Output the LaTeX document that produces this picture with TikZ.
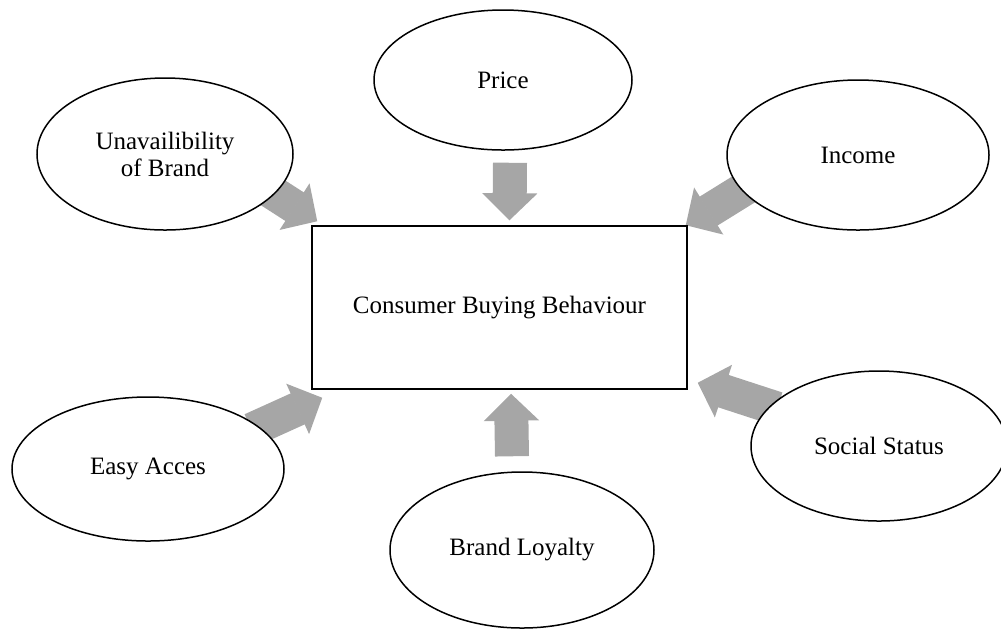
\documentclass[tikz,border=0pt]{standalone}
\usepackage{fontspec}
\setmainfont{Liberation Serif}
\usetikzlibrary{shapes.geometric, arrows.meta, backgrounds}
\definecolor{flowgray}{HTML}{A6A6A6}

\begin{document}
\begin{tikzpicture}[x=0.5pt, y=-0.5pt, font=\fontsize{12.5}{13.5}\selectfont,
		factor/.style = {ellipse, draw, fill=white, line width=0.75pt, inner sep=0pt, align=center},
		box/.style = {rectangle, draw, fill=white, line width=0.75pt, minimum width=187.5pt, minimum height=81.5pt},
		flow/.style = {flowgray, line width=17pt, -{Triangle[length=13.5pt, width=27.5pt, line width=1pt]}}]
			\useasboundingbox (0,0) rectangle (1001,629);
			\node[box] (cbb) at (499.5,307.5) {Consumer Buying Behaviour};
			\node[factor, minimum width=129pt, minimum height=70pt] (price) at (503,80) {Price};
			\node[factor, minimum width=128pt, minimum height=76pt] (unav) at (165,154) {Unavailibility\\of Brand};
			\node[factor, minimum width=131pt, minimum height=75pt] (income) at (858,155) {Income};
			\node[factor, minimum width=136pt, minimum height=72pt] (easy) at (148,469) {Easy Acces};
			\node[factor, minimum width=132pt, minimum height=78pt] (brand) at (522,550) {Brand Loyalty};
			\node[factor, minimum width=128pt, minimum height=75pt] (social) at (879,446) {Social Status};
			\begin{scope}[on background layer]
			\path[flow]
				([shift={(7,12)}]price.south) edge ([shift={(10,-5)}]cbb.north)
				(unav.-20) edge[shorten <=-4pt] ([shift={(6,-4)}]cbb.north west)
				(income.197) edge[shorten <=-4pt] ([shift={(-2,0)}]cbb.north east)
				(easy.21) edge[shorten <=-4pt] ([shift={(11,8)}]cbb.south west)
				([shift={(-10,-15)}]brand.north) edge ([shift={(11.5,4)}]cbb.south)
				(social.160) edge[shorten <=-4pt] ([shift={(10,-7)}]cbb.south east);
			\end{scope}
		\end{tikzpicture}
\end{document}
